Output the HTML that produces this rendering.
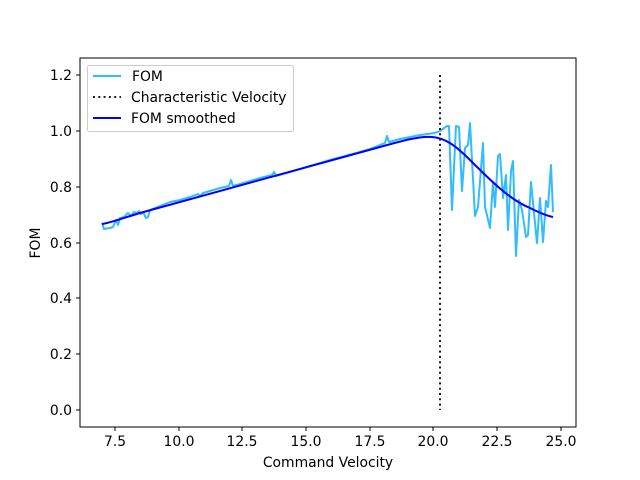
<!DOCTYPE html>
<html><head><meta charset="utf-8"><style>body{margin:0;background:#fff}svg{display:block}text{font-family:"DejaVu Sans",sans-serif;font-size:13.9px;fill:#000}</style></head><body>
<svg width="640" height="480" viewBox="0 0 640 480">
<rect x="80" y="58" width="496" height="369" fill="#fff" stroke="#000" stroke-width="1"/>
<g stroke="#000" stroke-width="1">
<line x1="115" y1="427" x2="115" y2="431"/><line x1="179" y1="427" x2="179" y2="431"/><line x1="242" y1="427" x2="242" y2="431"/><line x1="306" y1="427" x2="306" y2="431"/><line x1="370" y1="427" x2="370" y2="431"/><line x1="433" y1="427" x2="433" y2="431"/><line x1="497" y1="427" x2="497" y2="431"/><line x1="561" y1="427" x2="561" y2="431"/>
<line x1="76" y1="410" x2="80" y2="410"/><line x1="76" y1="354" x2="80" y2="354"/><line x1="76" y1="298" x2="80" y2="298"/><line x1="76" y1="243" x2="80" y2="243"/><line x1="76" y1="187" x2="80" y2="187"/><line x1="76" y1="131" x2="80" y2="131"/><line x1="76" y1="75" x2="80" y2="75"/>
</g>
<g text-anchor="middle">
<text x="115" y="446">7.5</text><text x="179" y="446">10.0</text><text x="242" y="446">12.5</text><text x="306" y="446">15.0</text><text x="370" y="446">17.5</text><text x="433" y="446">20.0</text><text x="497" y="446">22.5</text><text x="561" y="446">25.0</text>
<text x="328" y="467">Command Velocity</text>
</g>
<g text-anchor="end">
<text x="72" y="415">0.0</text><text x="72" y="359">0.2</text><text x="72" y="303">0.4</text><text x="72" y="248">0.6</text><text x="72" y="192">0.8</text><text x="72" y="136">1.0</text><text x="72" y="80">1.2</text>
</g>
<text transform="translate(40,243) rotate(-90)" text-anchor="middle">FOM</text>
<polyline fill="none" stroke="#33bbff" stroke-width="2" stroke-linejoin="round" points="102,223 104,229 110,228 113,227 116,220 118,225 120,218 124,217 128,213 131,216 134,212 137,213 139,211 141,214 143,212 146,218 148,217 150,210 160,206 170,202 180,200 190,197 198,194 200,196 203,193 220,188 229,186 231,180 233,186 240,184 260,178 272,175 274,172 276,176 300,169 330,160 360,152 370,149 375,147 385,143 387,136 389,142 400,139 420,135 435,133 440,131 447,126 449,126 452,210 456,126 459,127 462,191 465,148 468,145 470,123 475,216 478,207 483,143 485,207 490,228 493,182 495,207 498,156 500,154 503,198 506,175 508,230 511,171 513,161 516,256 519,200 522,210 526,237 528,235 531,182 534,213 537,243 540,198 543,242 546,201 548,207 551,165 553,212"/>
<line x1="440" y1="75" x2="440" y2="410" stroke="#000" stroke-width="1.8" stroke-dasharray="2,3.3"/>
<path d="M102,224 C110,223 120,219 140,213 L380,147 C405,140 420,136 432,137 C445,138 455,145 470,160 C490,180 510,200 530,208 C542,214 548,216 553,217" fill="none" stroke="#0000ff" stroke-width="2"/>
<rect x="87.5" y="65.5" width="206" height="66" rx="2" fill="#fff" fill-opacity="0.8" stroke="#ccc"/>
<line x1="93" y1="76" x2="121" y2="76" stroke="#33bbff" stroke-width="2"/>
<line x1="93" y1="97" x2="121" y2="97" stroke="#000" stroke-width="1.8" stroke-dasharray="2,3.3"/>
<line x1="93" y1="118" x2="121" y2="118" stroke="#0000ff" stroke-width="2"/>
<text x="132" y="81">FOM</text>
<text x="131" y="102">Characteristic Velocity</text>
<text x="131" y="123">FOM smoothed</text>
</svg>
</body></html>
